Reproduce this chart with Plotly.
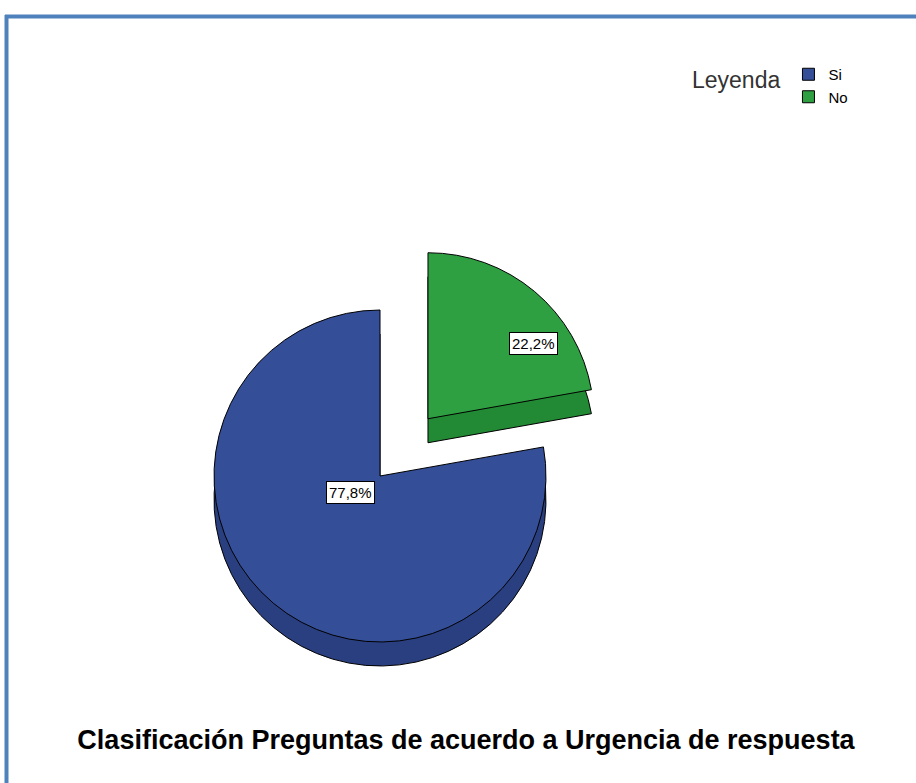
import plotly.graph_objects as go

# ---- data ----
categories = ["Si", "No"]
values = [77.8, 22.2]
pct_labels = ["77,8%", "22,2%"]
colors_top = ["#354E98", "#2EA042"]
colors_side = ["#2A3F80", "#228A34"]
pulls = [0, 0.45]

W, H = 916, 783
FONT = "Liberation Sans, Arial, sans-serif"

# pie placement (paper fractions; margins are zero)
cx, cy = 380 / W, 1 - 476 / H
R = 166
D = 2 * R * (1 + max(pulls))
hx, hy = D / 2 / W, D / 2 / H
depth = 24 / H
start_angle = 360 * values[1] / sum(values)

fig = go.Figure()

# side (extrusion) of the pseudo-3D pie
fig.add_trace(go.Pie(
    labels=categories, values=values, sort=False,
    direction="clockwise", rotation=start_angle, pull=pulls,
    marker=dict(colors=colors_side, line=dict(color="#000000", width=1)),
    textinfo="none", hoverinfo="skip", showlegend=False,
    domain=dict(x=[cx - hx, cx + hx], y=[cy - hy - depth, cy + hy - depth]),
))

# top face
fig.add_trace(go.Pie(
    labels=categories, values=values, sort=False,
    direction="clockwise", rotation=start_angle, pull=pulls,
    marker=dict(colors=colors_top, line=dict(color="#000000", width=1)),
    textinfo="none", showlegend=True,
    domain=dict(x=[cx - hx, cx + hx], y=[cy - hy, cy + hy]),
))

# percentage labels in white boxes
label_pos = [(350 / W, 1 - 492 / H), (533 / W, 1 - 343 / H)]
for (lx, ly), txt in zip(label_pos, pct_labels):
    fig.add_annotation(
        x=lx, y=ly, xref="paper", yref="paper", text=txt, showarrow=False,
        font=dict(family=FONT, size=15, color="#000000"),
        bgcolor="#FFFFFF", bordercolor="#000000", borderwidth=1, borderpad=2,
    )

# frame border
fig.add_shape(type="line", xref="paper", yref="paper",
              x0=5 / W, x1=1.01, y0=1 - 16.5 / H, y1=1 - 16.5 / H,
              line=dict(color="#4F81BD", width=4))
fig.add_shape(type="line", xref="paper", yref="paper",
              x0=6.5 / W, x1=6.5 / W, y0=1 - 15 / H, y1=-0.01,
              line=dict(color="#4F81BD", width=4))

fig.update_layout(
    width=W, height=H,
    margin=dict(l=0, r=0, t=0, b=0),
    paper_bgcolor="#FFFFFF", plot_bgcolor="#FFFFFF",
    font=dict(family=FONT, color="#000000"),
    title=dict(
        text="<b>Clasificación Preguntas de acuerdo a Urgencia de respuesta</b>",
        x=466 / W, xanchor="center", y=1 - 740 / H, yanchor="middle",
        font=dict(family=FONT, size=27, color="#000000"),
    ),
    legend=dict(
        title=dict(text="Leyenda", side="left",
                   font=dict(family=FONT, size=23, color="#333333")),
        x=690 / W, xanchor="left", y=1 - 58 / H, yanchor="top",
        font=dict(family=FONT, size=15, color="#000000"),
        itemwidth=30, tracegroupgap=0,
        bgcolor="rgba(0,0,0,0)",
    ),
)

fig.write_html(
    "out.html",
    config={"displayModeBar": False},
    post_script="document.body.style.margin='0';document.body.style.overflow='hidden';",
)
